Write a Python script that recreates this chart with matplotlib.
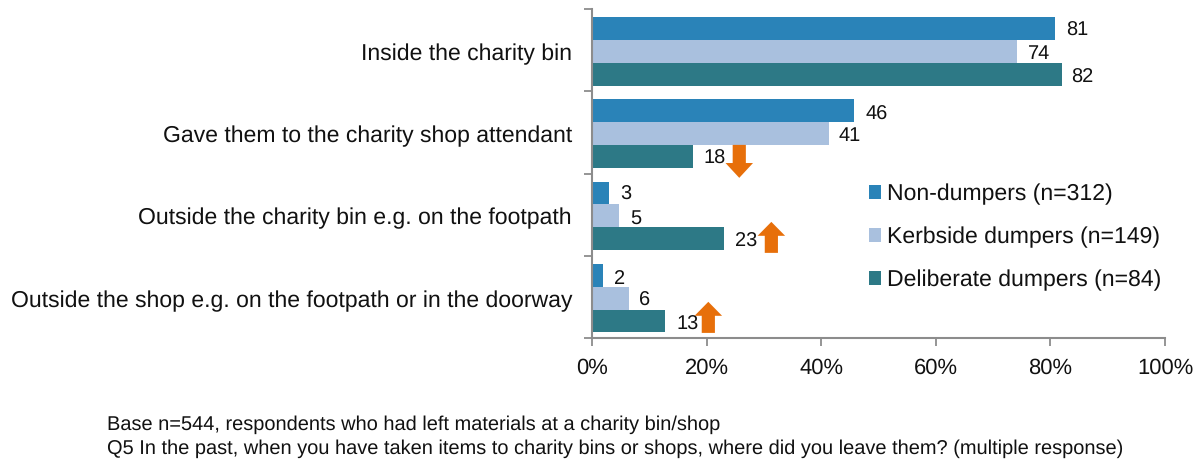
import matplotlib
matplotlib.use("Agg")
import matplotlib.pyplot as plt
from matplotlib.patches import Polygon, Patch

plt.rcParams['font.family'] = ['Liberation Sans', 'DejaVu Sans']
plt.rcParams['text.hinting'] = 'none'
plt.rcParams['text.hinting_factor'] = 1

categories = ["Inside the charity bin", "Gave them to the charity shop attendant",
              "Outside the charity bin e.g. on the footpath",
              "Outside the shop e.g. on the footpath or in the doorway"]
series_names = ["Non-dumpers (n=312)", "Kerbside dumpers (n=149)", "Deliberate dumpers (n=84)"]
non_dumpers = [80.8, 45.7, 3.0, 2.0]
kerbside = [74.2, 41.4, 4.7, 6.4]
deliberate = [82.0, 17.6, 23.0, 12.7]
colors = ["#2A83B8", "#A9C0DE", "#2D7986"]
label_gap = [[2.0, 2.0, 1.9, 1.8], [1.8, 1.6, 2.0, 1.8], [1.7, 1.9, 1.9, 2.1]]
label_lift = [[0.02, 0.045, 0.015, 0.04], [0.03, 0.025, 0.03, 0.035], [0.04, 0.03, 0.03, 0.045]]
# change arrows: centre x (%), category row, tail and tip offsets from the row centre
arrow_x = [25.7, 31.3, 20.3]
arrow_row = [1, 2, 3]
arrow_tail = [0.152, 0.465, 0.438]
arrow_tip = [0.553, 0.088, 0.06]

series = [non_dumpers, kerbside, deliberate]
W, H = 1200, 459
fig = plt.figure(figsize=(W/100, H/100), dpi=100)
ax = fig.add_axes([592/W, 1-338/H, 573/W, 329/H])
bh = 0.278
offs = [-bh + 0.015, 0.015, bh + 0.015]
for s, vals in enumerate(series):
    ypos = [i + offs[s] for i in range(4)]
    ax.barh(ypos, vals, height=bh, color=colors[s], linewidth=0, zorder=2)
    for i, v in enumerate(vals):
        ax.text(v + label_gap[s][i], ypos[i] + label_lift[s][i], f"{round(v)}",
                va="center", ha="left", fontsize=14.5, color="#111111", zorder=4)

ax.set_xlim(0, 100)
ax.set_ylim(3.5, -0.5)
ax.set_xticks(range(0, 101, 20))
ax.set_xticklabels([f"{t}%" for t in range(0, 101, 20)], fontsize=16, color="#111111")
ax.set_yticks([i - 0.5 for i in range(5)])
ax.set_yticklabels([])
for i, c in enumerate(categories):
    ax.annotate(c, xy=(0, i), xycoords=("axes fraction", "data"), xytext=(-20, -4),
                textcoords="offset pixels", ha="right", va="center", fontsize=16.8, color="#111111")
ax.tick_params(axis="both", color="#8C8C8C", width=1.3, length=5.5)
ax.tick_params(axis="x", pad=9)
for k in ("top", "right"):
    ax.spines[k].set_visible(False)
for k in ("left", "bottom"):
    ax.spines[k].set_color("#8C8C8C")
    ax.spines[k].set_linewidth(1.5)

# arrows
hw, sw = 2.4, 1.15
for x, row, tail, tip in zip(arrow_x, arrow_row, arrow_tail, arrow_tip):
    ty, py = row + tail, row + tip
    by = py + (ty - py) * 0.45
    pts = [(x - sw, ty), (x - sw, by), (x - hw, by), (x, py), (x + hw, by), (x + sw, by), (x + sw, ty)]
    ax.add_patch(Polygon(pts, closed=True, facecolor="#E76F0A", edgecolor="none", zorder=5, clip_on=False))

handles = [Patch(facecolor=c, edgecolor="none") for c in colors]
fig.legend(handles, series_names, loc="upper left", bbox_to_anchor=(864/W, 1-179/H),
           frameon=False, fontsize=16.5, handlelength=0.53, handleheight=0.53, handletextpad=0.28,
           labelspacing=0.94, labelcolor="#111111", borderpad=0.2, borderaxespad=0)

fig.text(107/W, 1-425/H, "Base n=544, respondents who had left materials at a charity bin/shop",
         fontsize=14.2, va="center", ha="left", color="#111111")
fig.text(107/W, 1-449/H, "Q5 In the past, when you have taken items to charity bins or shops, where did you leave them? (multiple response)",
         fontsize=14.2, va="center", ha="left", color="#111111")
fig.savefig("out.png", dpi=100, facecolor="white")
